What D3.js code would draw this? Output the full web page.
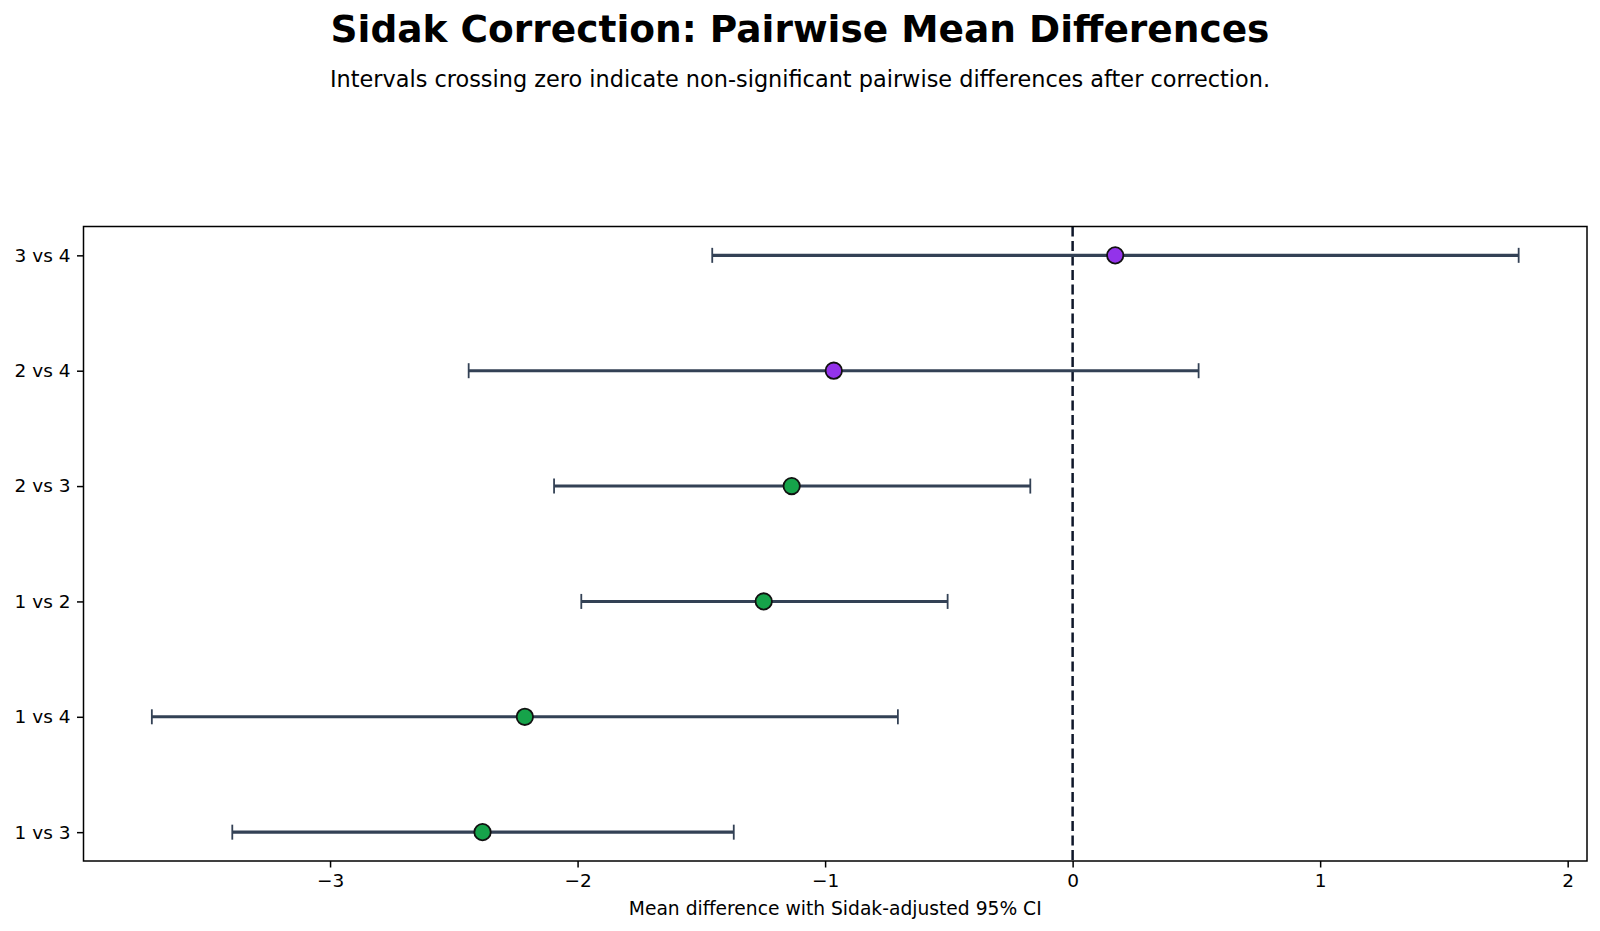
<!DOCTYPE html>
<html lang="en">
<head>
    <meta charset="UTF-8">
    <title>Sidak Correction</title>
    <script src="https://cdn.jsdelivr.net/npm/d3@7"></script>
    <style>
        body {
            margin: 0;
            background-color: #ffffff;
            font-family: 'DejaVu Sans', sans-serif;
        }
        svg text {
            font-family: 'DejaVu Sans', sans-serif;
            fill: #000;
        }
    </style>
</head>
<body>
    <svg id="chart" width="1600" height="931"></svg>

    <script>
        // comparisons, bottom to top
        const comparisons = ["1 vs 3", "1 vs 4", "1 vs 2", "2 vs 3", "2 vs 4", "3 vs 4"];
        const estimates = [-2.384, -2.213, -1.248, -1.135, -0.965, 0.172];
        const lowerCI = [-3.395, -3.720, -1.985, -2.095, -2.440, -1.456];
        const upperCI = [-1.369, -0.706, -0.505, -0.171, 0.509, 1.802];
        const xTicks = [-3, -2, -1, 0, 1, 2];

        const svg = d3.select("#chart");
        const W = 1600, H = 931;
        const margin = { top: 226.5, right: 13, bottom: 70, left: 83.5 };
        const plotW = W - margin.left - margin.right;
        const plotH = H - margin.top - margin.bottom;

        // title and subtitle
        svg.append("text")
            .attr("x", W / 2).attr("y", 42)
            .attr("text-anchor", "middle")
            .style("font-size", "37.5px")
            .style("font-weight", "bold")
            .text("Sidak Correction: Pairwise Mean Differences");

        svg.append("text")
            .attr("x", W / 2).attr("y", 87)
            .attr("text-anchor", "middle")
            .style("font-size", "22.4px")
            .text("Intervals crossing zero indicate non-significant pairwise differences after correction.");

        const g = svg.append("g")
            .attr("transform", `translate(${margin.left},${margin.top})`);

        // x range padded 5% like matplotlib
        const lo = d3.min(lowerCI), hi = d3.max(upperCI);
        const pad = (hi - lo) * 0.05;
        const x = d3.scaleLinear()
            .domain([lo - pad, hi + pad])
            .range([0, plotW]);

        const y = d3.scalePoint()
            .domain(comparisons)
            .range([plotH, 0])
            .padding(0.25);

        // zero reference
        g.append("line")
            .attr("x1", x(0)).attr("x2", x(0))
            .attr("y1", 0).attr("y2", plotH)
            .attr("stroke", "#0f172a")
            .attr("stroke-width", 2.5)
            .attr("stroke-dasharray", "10,4.5");

        const rows = comparisons.map((c, i) => ({
            name: c,
            est: estimates[i],
            lo: lowerCI[i],
            hi: upperCI[i]
        }));

        const row = g.selectAll(".row")
            .data(rows)
            .enter()
            .append("g")
            .attr("class", "row")
            .attr("transform", d => `translate(0,${y(d.name)})`);

        row.append("line")
            .attr("x1", d => x(d.lo)).attr("x2", d => x(d.hi))
            .attr("stroke", "#334155")
            .attr("stroke-width", 3.1);

        row.selectAll(".cap")
            .data(d => [d.lo, d.hi])
            .enter()
            .append("line")
            .attr("class", "cap")
            .attr("x1", v => x(v)).attr("x2", v => x(v))
            .attr("y1", -7.5).attr("y2", 7.5)
            .attr("stroke", "#334155")
            .attr("stroke-width", 1.8);

        row.append("circle")
            .attr("cx", d => x(d.est))
            .attr("r", 8.2)
            .attr("fill", d => (d.lo > 0 || d.hi < 0) ? "#16a34a" : "#9333ea")
            .attr("stroke", "#111111")
            .attr("stroke-width", 1.8);

        // axes
        const xAxis = g.append("g")
            .attr("transform", `translate(0,${plotH})`)
            .call(d3.axisBottom(x)
                .tickValues(xTicks)
                .tickSize(6.5)
                .tickPadding(6)
                .tickFormat(d => d < 0 ? "\u2212" + Math.abs(d) : d));

        const yAxis = g.append("g")
            .call(d3.axisLeft(y)
                .tickSize(6.5)
                .tickPadding(6.5));

        [xAxis, yAxis].forEach(a => {
            a.select(".domain").remove();
            a.selectAll(".tick line").attr("stroke", "#000").attr("stroke-width", 1.5);
            a.selectAll(".tick text").style("font-size", "18.5px").attr("fill", "#000");
        });

        // frame
        g.append("rect")
            .attr("width", plotW).attr("height", plotH)
            .attr("fill", "none")
            .attr("stroke", "#000")
            .attr("stroke-width", 1.5);

        svg.append("text")
            .attr("x", margin.left + plotW / 2).attr("y", 915)
            .attr("text-anchor", "middle")
            .style("font-size", "18.7px")
            .text("Mean difference with Sidak-adjusted 95% CI");
    </script>
</body>
</html>
